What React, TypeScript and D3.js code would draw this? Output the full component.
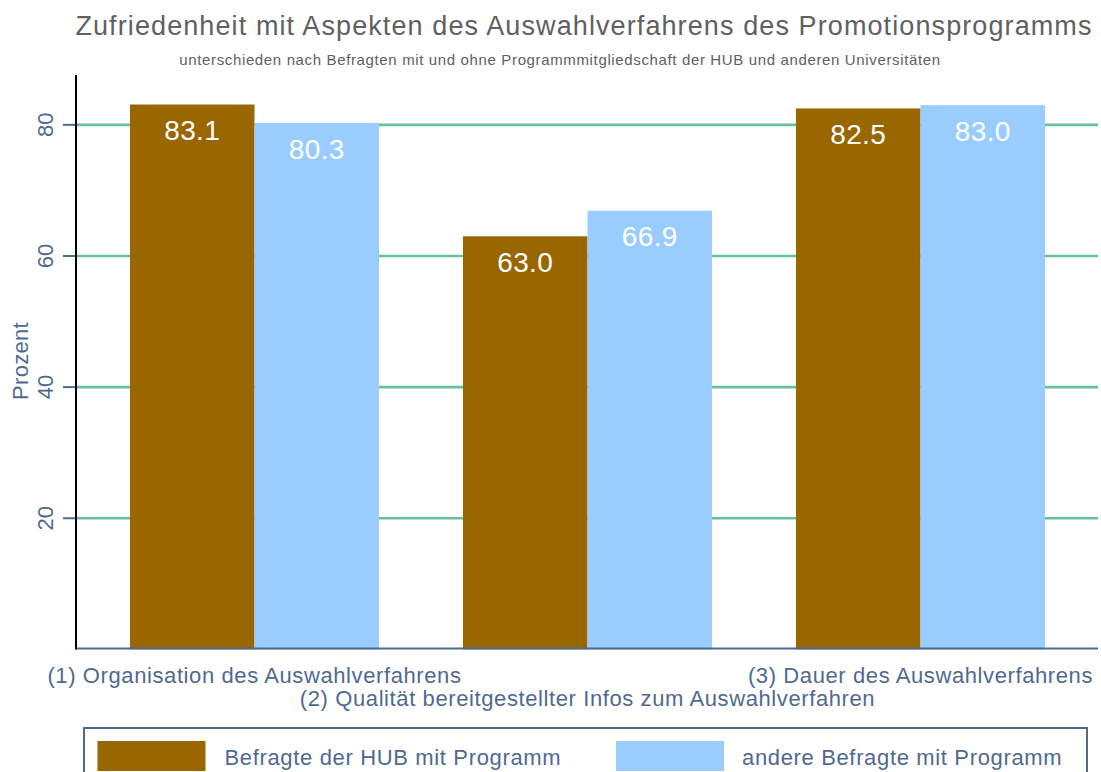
import React from "react";
import * as d3 from "d3";

const categories = [
  "(1) Organisation des Auswahlverfahrens",
  "(2) Qualität bereitgestellter Infos zum Auswahlverfahren",
  "(3) Dauer des Auswahlverfahrens",
];
const seriesNames = ["Befragte der HUB mit Programm", "andere Befragte mit Programm"];
const hubValues = [83.1, 63.0, 82.5];
const otherValues = [80.3, 66.9, 83.0];
const yTicks = [20, 40, 60, 80];
const colors = ["#996600", "#99ccff"];

const W = 1101;
const H = 772;
const labelColor = "#4f6a8f";
const font = "'Liberation Sans', Arial, sans-serif";

export default function App() {
  const x0 = d3.scaleBand<string>().domain(categories).range([88, 1087]).paddingInner(0.252).paddingOuter(0.126);
  const x1 = d3.scaleBand<number>().domain([0, 1]).range([0, x0.bandwidth()]);
  const y = d3.scaleLinear().domain([0, 87.6]).range([649.4, 75]);
  const series = [hubValues, otherValues];

  return (
    <svg width={W} height={H} style={{ position: "absolute", left: 0, top: 0, background: "#fff" }} fontFamily={font}>
      <text x={584} y={34.5} textAnchor="middle" fontSize={27} letterSpacing={1.1} fill="#606060">
        Zufriedenheit mit Aspekten des Auswahlverfahrens des Promotionsprogramms
      </text>
      <text x={560} y={65} textAnchor="middle" fontSize={15} letterSpacing={0.64} fill="#606060">
        unterschieden nach Befragten mit und ohne Programmmitgliedschaft der HUB und anderen Universitäten
      </text>

      {yTicks.map((t) => (
        <g key={t}>
          <line x1={76} x2={1098} y1={y(t)} y2={y(t)} stroke="#66c29a" strokeWidth={2.6} />
          <line x1={63} x2={76} y1={y(t)} y2={y(t)} stroke={labelColor} strokeWidth={2} />
          <text
            transform={`translate(${53},${y(t)}) rotate(-90)`}
            textAnchor="middle"
            fontSize={22}
            fill={labelColor}
          >
            {t}
          </text>
        </g>
      ))}
      <text
        transform={`translate(28,361) rotate(-90)`}
        textAnchor="middle"
        fontSize={22}
        letterSpacing={0.3}
        fill={labelColor}
      >
        Prozent
      </text>

      {categories.map((c, i) => (
        <g key={c}>
          {series.map((vals, s) => {
            const bx = (x0(c) as number) + (x1(s) as number);
            const bw = x1.bandwidth();
            const top = y(vals[i]);
            return (
              <g key={s}>
                <rect x={bx} y={top} width={bw} height={y(0) - top} fill={colors[s]} />
                <text
                  x={bx + bw / 2}
                  y={top + 35.7}
                  textAnchor="middle"
                  fontSize={28}
                  letterSpacing={0.4}
                  fill="#fff"
                >
                  {vals[i].toFixed(1)}
                </text>
              </g>
            );
          })}
          <text
            x={(x0(c) as number) + x0.bandwidth() / 2}
            y={i % 2 === 0 ? 683 : 706}
            textAnchor="middle"
            fontSize={22}
            letterSpacing={0.6}
            fill={labelColor}
          >
            {c}
          </text>
        </g>
      ))}

      <line x1={76} x2={1098} y1={648.5} y2={648.5} stroke={labelColor} strokeWidth={2} />
      <line x1={76} x2={76} y1={75} y2={649.4} stroke="#000" strokeWidth={2} />

      <rect x={84} y={728} width={1003} height={60} fill="none" stroke={labelColor} strokeWidth={2} />
      {seriesNames.map((n, s) => (
        <g key={n}>
          <rect x={97.5 + s * 518.5} y={741} width={108} height={30} fill={colors[s]} />
          <text x={224.5 + s * 517.5} y={765} fontSize={22} letterSpacing={0.65} fill={labelColor}>
            {n}
          </text>
        </g>
      ))}
    </svg>
  );
}
